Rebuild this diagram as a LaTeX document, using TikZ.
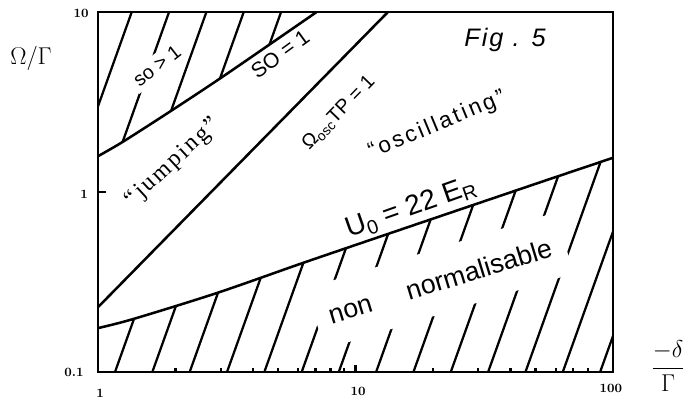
\documentclass[tikz,border=0pt]{standalone}
\usepackage{amsmath}
\usepackage{fontspec}
\usetikzlibrary{positioning}
\newfontfamily\handfont{Liberation Sans}
\newfontfamily\typefont{Liberation Serif}
\tikzset{every picture/.style={
    line width=1.8pt,
}}
\tikzset{frame/.style = {line width=2pt}}
\tikzset{hatch/.style = {line width=1.6pt}}
\tikzset{lbl/.style = {inner sep=1pt}}
\tikzset{cut/.style = {fill=white}}
\tikzset{ticklbl/.style = {font=\small\bfseries, inner sep=0pt}}

\begin{document}
\begin{tikzpicture}[x=6.4375cm, y=4.5cm]
      \useasboundingbox (-0.3806,-0.1833) rectangle (2.3068,2.0667);

      % hatching, clipped to the two shaded regions
      \begin{scope}[smooth]
        \clip (0,2) -- plot coordinates {(0,1.199) (0.1,1.282) (0.3,1.466) (0.5,1.656) (0.849,2)} -- cycle
              (0,0) -- plot coordinates {(0,0.244) (0.136,0.294) (0.462,0.439) (0.796,0.606) (1.126,0.767) (1.445,0.922) (1.767,1.078) (2,1.19)} -- (2,0) -- cycle;
        \draw[hatch] (-0.369,0) -- (0.131,2);
        \draw[hatch] (-0.224,0) -- (0.276,2);
        \draw[hatch] (-0.079,0) -- (0.421,2);
        \draw[hatch] (0.066,0) -- (0.566,2);
        \draw[hatch] (0.211,0) -- (0.711,2);
        \draw[hatch] (0.356,0) -- (0.856,2);
        \draw[hatch] (0.501,0) -- (1.001,2);
        \draw[hatch] (0.646,0) -- (1.146,2);
        \draw[hatch] (0.791,0) -- (1.291,2);
        \draw[hatch] (0.935,0) -- (1.435,2);
        \draw[hatch] (1.080,0) -- (1.580,2);
        \draw[hatch] (1.225,0) -- (1.725,2);
        \draw[hatch] (1.370,0) -- (1.870,2);
        \draw[hatch] (1.515,0) -- (2.015,2);
        \draw[hatch] (1.660,0) -- (2.160,2);
        \draw[hatch] (1.805,0) -- (2.305,2);
        \draw[hatch] (1.950,0) -- (2.450,2);
      \end{scope}

      % boundaries
      \draw plot[smooth] coordinates {(0,1.199) (0.1,1.282) (0.3,1.466) (0.5,1.656) (0.849,2)};
      \draw (0,0.36) -- (1.126,2);
      \draw plot[smooth] coordinates {(0,0.244) (0.136,0.294) (0.462,0.439) (0.796,0.606) (1.126,0.767) (1.445,0.922) (1.767,1.078) (2,1.19)};

      % ticks
      \draw[hatch] (0.301,0) -- ++(0,0.025) (0.477,0) -- ++(0,0.025) (0.602,0) -- ++(0,0.025) (0.699,0) -- ++(0,0.025)
                   (0.778,0) -- ++(0,0.025) (0.845,0) -- ++(0,0.025) (0.903,0) -- ++(0,0.025) (0.954,0) -- ++(0,0.025);
      \draw[hatch] (1.301,0) -- ++(0,0.025) (1.477,0) -- ++(0,0.025) (1.602,0) -- ++(0,0.025) (1.699,0) -- ++(0,0.025)
                   (1.778,0) -- ++(0,0.025) (1.845,0) -- ++(0,0.025) (1.903,0) -- ++(0,0.025) (1.954,0) -- ++(0,0.025);
      \draw[hatch] (1,0) -- (1,0.04);
      \draw[hatch] (0,1) -- (0.03,1);

      \draw[frame] (0,0) rectangle (2,2);

      % region and curve labels
      \node[lbl, cut, rotate=38, inner sep=3pt] (sgt) at (0.229,1.70) {\fontsize{14}{14}\handfont so > 1};
      \node[lbl, rotate=36] (seq) at (0.707,1.767) {\fontsize{15}{15}\handfont SO = 1};
      \node[lbl, rotate=46] (otp) at (0.935,1.44) {\fontsize{14}{14}\handfont Ω\textsubscript{osc}TP = 1};
      \node[lbl, rotate=42.7] (jump) at (0.291,1.161) {\fontsize{17}{17}\typefont\addfontfeatures{LetterSpace=10}“jumping”};
      \node[lbl, rotate=22.6] (osc) at (1.317,1.372) {\fontsize{16}{16}\handfont\addfontfeatures{LetterSpace=12}“oscillating”};
      \node[lbl, rotate=19.5] (uzero) at (1.216,0.911) {\fontsize{20}{20}\handfont U\textsubscript{0} = 22 E\textsubscript{R}};
      \node[cut, rotate=17, inner xsep=0.35cm, inner ysep=0.55cm] (nonnorm) at (1.328,0.506) {\fontsize{19}{19}\handfont non\hspace{26pt}normalisable};
      \node[lbl] (fig) at (1.581,1.844) {\fontsize{18}{18}\handfont\itshape\addfontfeatures{LetterSpace=8}Fig . 5};

      % axes
      \node[ticklbl] (y10) at (-0.066,1.994) {10};
      \node[ticklbl] (y1) at (-0.054,0.989) {1};
      \node[ticklbl] (y01) at (-0.093,0) {0.1};
      \node[ticklbl] (x1) at (0.008,-0.117) {1};
      \node[ticklbl] (x10) at (1.01,-0.106) {10};
      \node[ticklbl] (x100) at (1.992,-0.094) {100};
      \node (ylab) at (-0.26,1.74) {\LARGE$\Omega/\Gamma$};
      \node (xlab) at (2.214,0.033) {\LARGE$\dfrac{-\delta}{\Gamma}$};
\end{tikzpicture}
\end{document}
